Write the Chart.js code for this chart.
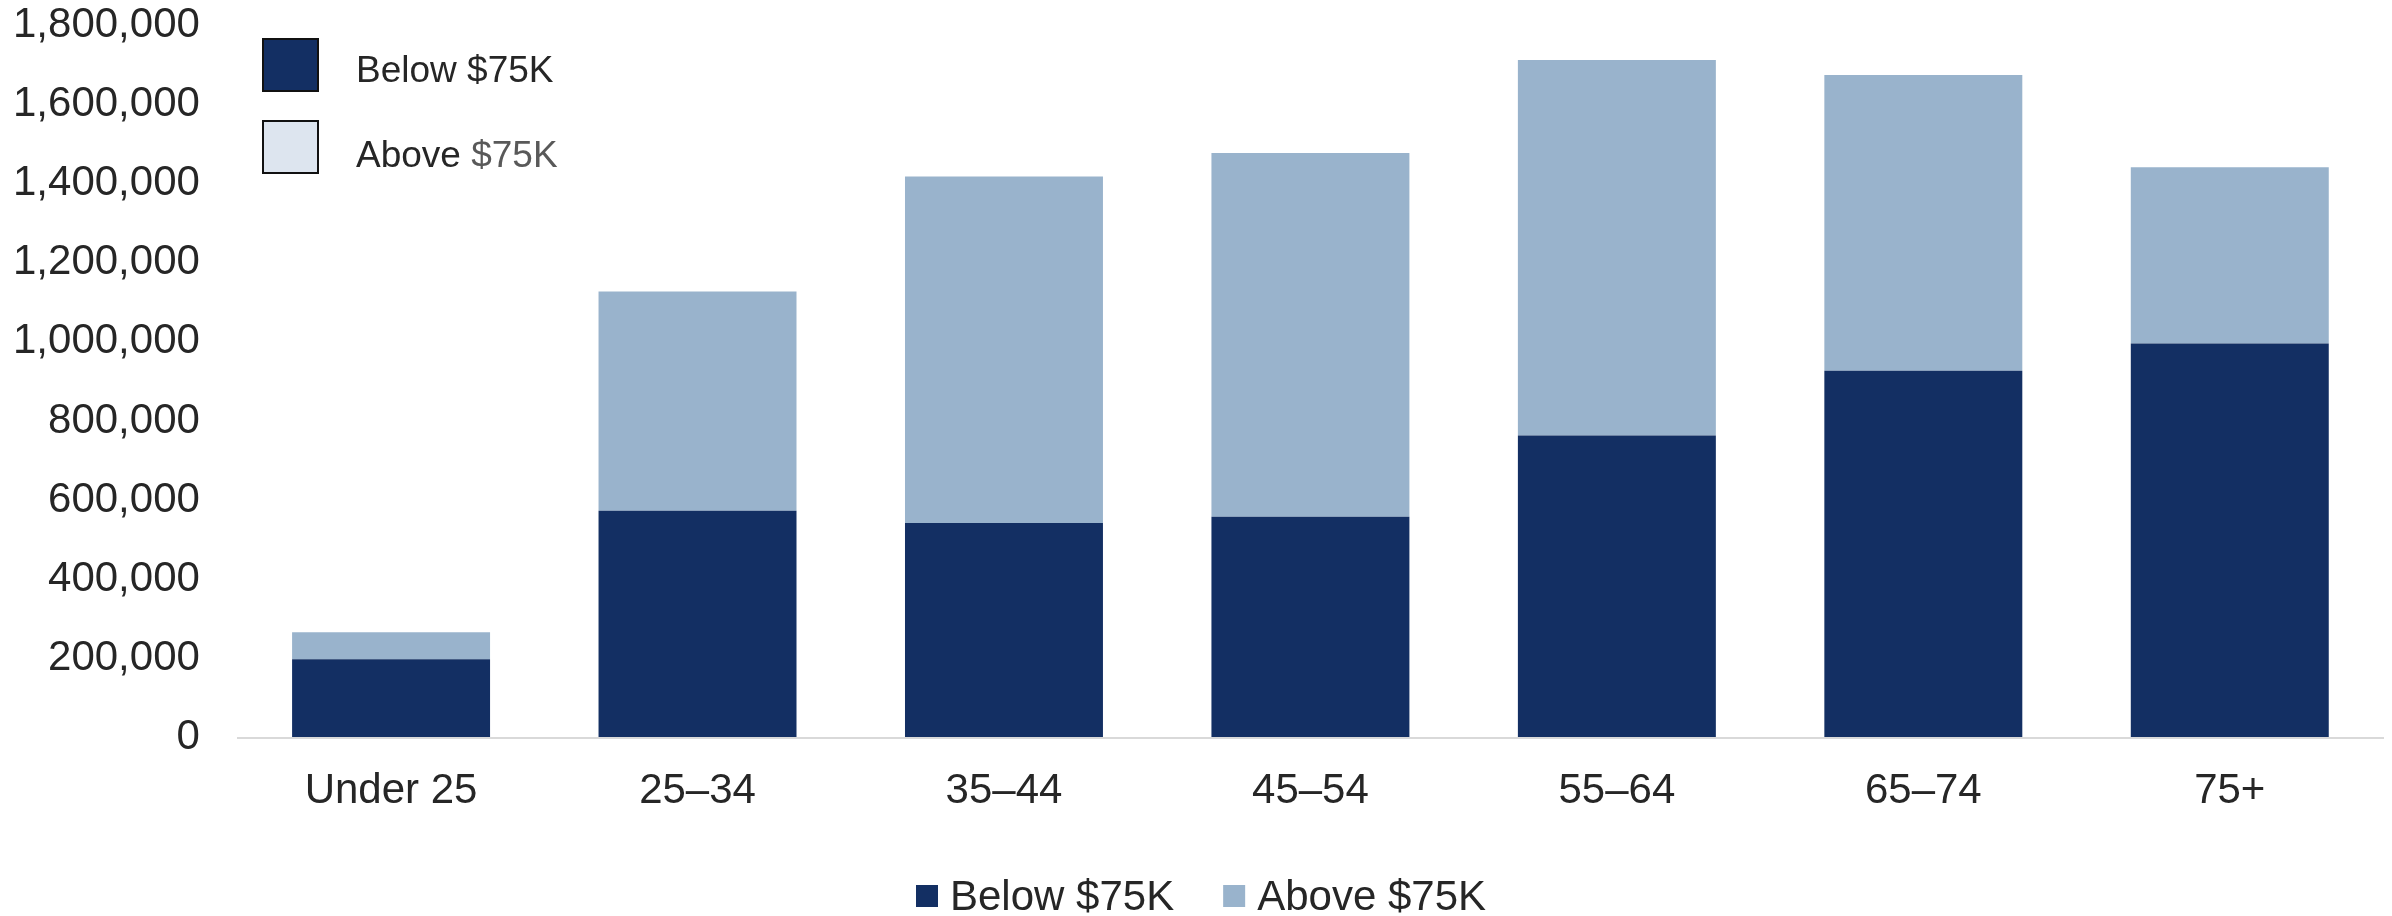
<!DOCTYPE html>
<html><head><meta charset="utf-8">
<script src="https://cdn.jsdelivr.net/npm/chart.js@4/dist/chart.umd.min.js"></script>
<style>html,body{margin:0;padding:0;background:#fff}#wrap{width:2392px;height:916px;position:relative}</style>
</head><body><div id="wrap"><canvas id="c" width="2392" height="916"></canvas></div>
<script>
const categories = ['Under 25', '25–34', '35–44', '45–54', '55–64', '65–74', '75+'];
const belowValues = [198000, 573000, 542000, 558000, 763000, 927000, 996000];
const aboveValues = [68000, 554000, 876000, 919000, 949000, 747000, 445000];
const seriesNames = ['Below $75K', 'Above $75K'];
const yTickValues = [0, 200000, 400000, 600000, 800000, 1000000, 1200000, 1400000, 1600000, 1800000];

const FONT = '"Liberation Sans", Arial, sans-serif';
const DARK = '#132f63';
const LIGHT = '#99b3cc';

const legendPlugin = {
  id: 'customLegends',
  afterDraw(chart) {
    const ctx = chart.ctx;
    const ds = chart.data.datasets;
    ctx.save();
    // bottom legend
    ctx.font = '42px ' + FONT;
    ctx.textBaseline = 'alphabetic';
    const box = 22, gap = 12, itemGap = 49;
    const widths = ds.map(d => ctx.measureText(d.label).width);
    const total = widths.reduce((a, w) => a + box + gap + w, 0) + itemGap * (ds.length - 1);
    let x = chart.width / 2 - total / 2 + 5;
    const cy = 896;
    ds.forEach((d, i) => {
      ctx.fillStyle = d.backgroundColor;
      ctx.fillRect(x, cy - box / 2, box, box);
      x += box + gap;
      ctx.fillStyle = '#262626';
      ctx.fillText(d.label, x, 910);
      x += widths[i] + itemGap;
    });
    // inset legend (top-left)
    ctx.font = '37px ' + FONT;
    ctx.lineWidth = 2;
    ctx.strokeStyle = '#111111';
    ctx.fillStyle = DARK;
    ctx.fillRect(263, 39, 55, 52);
    ctx.strokeRect(263, 39, 55, 52);
    ctx.fillStyle = '#dde5ef';
    ctx.fillRect(263, 121, 55, 52);
    ctx.strokeRect(263, 121, 55, 52);
    ctx.fillStyle = '#262626';
    ctx.fillText(ds[0].label, 356, 82);
    const parts = ds[1].label.split(' ');
    const first = parts[0] + ' ';
    ctx.fillText(first, 356, 167);
    const fw = ctx.measureText(first).width;
    ctx.fillStyle = '#595959';
    ctx.fillText(parts.slice(1).join(' '), 356 + fw, 167);
    ctx.restore();
  }
};

new Chart(document.getElementById('c'), {
  type: 'bar',
  data: {
    labels: categories,
    datasets: [
      { label: seriesNames[0], data: belowValues, backgroundColor: DARK, borderWidth: 0 },
      { label: seriesNames[1], data: aboveValues, backgroundColor: LIGHT, borderWidth: 0 }
    ]
  },
  options: {
    responsive: false,
    animation: false,
    devicePixelRatio: 1,
    layout: { padding: { left: 13, right: 9, top: 2, bottom: 99 } },
    plugins: { legend: { display: false }, tooltip: { enabled: false } },
    datasets: { bar: { categoryPercentage: 1.0, barPercentage: 0.646 } },
    scales: {
      x: {
        stacked: true,
        grid: { display: true, drawOnChartArea: false, drawTicks: true, tickLength: 29, color: 'rgba(0,0,0,0)' },
        border: { display: true, color: '#d9d9d9', width: 2 },
        ticks: { color: '#262626', font: { family: FONT, size: 42 }, padding: 0, maxRotation: 0 }
      },
      y: {
        stacked: true,
        min: 0,
        max: 1800000,
        afterBuildTicks(scale) { scale.ticks = yTickValues.map(v => ({ value: v })); },
        grid: { display: true, drawOnChartArea: false, drawTicks: true, tickLength: 38, color: 'rgba(0,0,0,0)' },
        border: { display: false },
        ticks: {
          color: '#262626', font: { family: FONT, size: 42 }, padding: 0,
          callback: v => Number(v).toLocaleString('en-US')
        }
      }
    }
  },
  plugins: [legendPlugin]
});
</script>
</body></html>
